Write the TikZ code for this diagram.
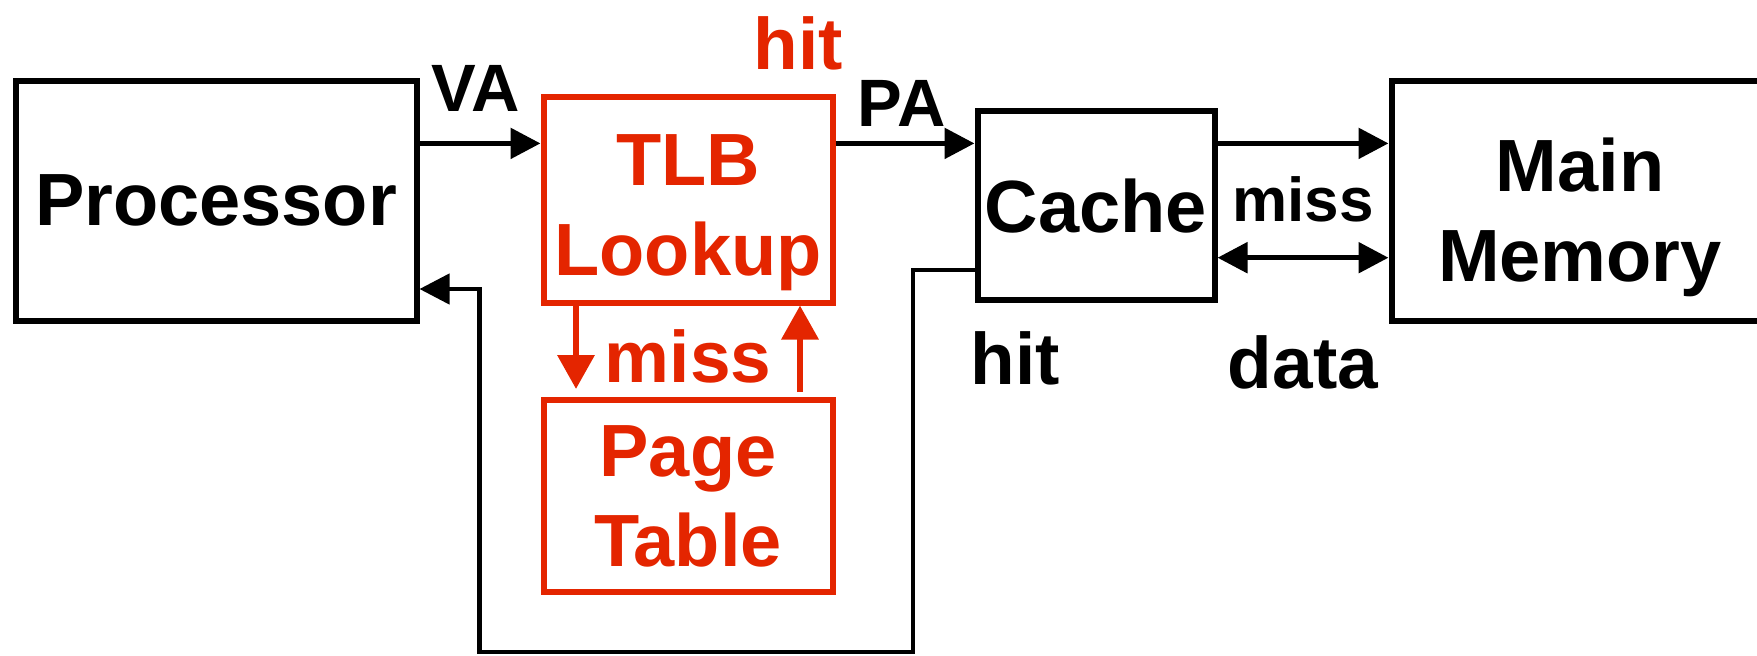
\documentclass[tikz,border=0pt]{standalone}
\usepackage{fontspec}
\setmainfont{Liberation Sans}
\usetikzlibrary{arrows.meta}
\definecolor{tlbred}{RGB}{228,37,0}
\begin{document}
\begin{tikzpicture}[x=1pt,y=-1pt,every node/.style={font=\bfseries\fontsize{74}{90}\selectfont},>={Triangle[length=30pt,width=30pt]},line width=5.5pt]
\tikzset{box/.style={draw,align=center,inner sep=0pt,line width=6pt}, lab/.style={inner sep=0pt,font=\bfseries\fontsize{67}{70}\selectfont}, biglab/.style={inner sep=0pt,font=\bfseries\fontsize{73}{80}\selectfont}, redarrow/.style={tlbred,line width=6.5pt,>={Triangle[length=34pt,width=36pt]}}}
\useasboundingbox (0,0) rectangle (1757,656);
\clip (0,0) rectangle (1757,656);
\node[box,minimum width=401pt,minimum height=240pt] (proc) at (216,200.6) {Processor};
\node[box,draw=tlbred,text=tlbred,minimum width=289pt,minimum height=206pt] (tlb) at (688,199.5) {\rule{0pt}{77pt}TLB\\Lookup};
\node[box,draw=tlbred,text=tlbred,minimum width=289pt,minimum height=192pt] (pt) at (688,496) {Page\\Table};
\node[box,minimum width=237pt,minimum height=189pt] (cache) at (1096,205.6) {Cache};
\node[box,minimum width=377pt,minimum height=240pt] (mem) at (1580,200.6) {\rule{0pt}{88pt}Main\\Memory};
% labels
\node[lab] (va) at (476,88) {VA};
\node[lab] (pa) at (902,103) {PA};
\node[biglab,text=tlbred] (tlbhit) at (798,43) {hit};
\node[biglab,text=tlbred] (tlbmiss) at (688,356) {miss};
\node[lab,font=\bfseries\fontsize{62}{70}\selectfont] (memmiss) at (1303,199) {miss};
\node[biglab] (memdata) at (1303,362) {data};
\node[biglab] (cachehit) at (1015,358) {hit};
% rows
\coordinate (toprow) at (0,143.4);
\coordinate (datarow) at (0,257.7);
\draw[->] (proc.east |- toprow) -- (tlb.west |- toprow);
\draw[->] (tlb.east |- toprow) -- (cache.west |- toprow);
\draw[->] (cache.east |- toprow) -- (mem.west |- toprow);
\draw[<->] (cache.east |- datarow) -- (mem.west |- datarow);
% tlb miss
\coordinate (missdown) at (576,0);
\coordinate (missup) at (800,0);
\draw[->,redarrow] (tlb.south -| missdown) -- ([yshift=8pt]pt.north -| missdown);
\draw[->,redarrow] ([yshift=5pt]pt.north -| missup) -- (tlb.south -| missup);
% hit back to processor
\coordinate (hitrow) at (0,270);
\coordinate (loopr) at (913,652);
\coordinate (loopl) at (479.6,289);
\draw[->,line width=4.5pt] (cache.west |- hitrow) -| (loopr) -| (loopl) -- (proc.east |- loopl);
\end{tikzpicture}
\end{document}
